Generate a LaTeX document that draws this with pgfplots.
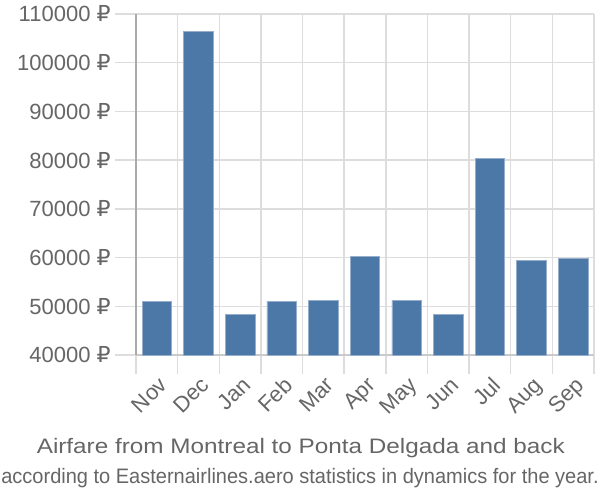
\documentclass[border=0pt]{standalone}
\usepackage{fontspec}
\setmainfont{Liberation Sans}
\newfontfamily\rub{DejaVu Sans}
\usepackage{pgfplots}
\pgfplotsset{compat=1.18}
\definecolor{barc}{HTML}{4C78A8}
\definecolor{txt}{HTML}{666666}
\definecolor{gridc}{HTML}{DDDDDD}
\definecolor{axisc}{HTML}{AAAAAA}
\begin{document}
\begin{tikzpicture}[x=1pt,y=1pt]
\useasboundingbox (0,0) rectangle (450,375);
\begin{axis}[
 at={(102pt,108.75pt)}, anchor=south west,
 scale only axis, width=343.5pt, height=255.75pt,
 xmin=-0.5, xmax=10.5, ymin=40000, ymax=110000,
 ytick={40000,50000,...,110000},
 xtick={0,...,10},
 xticklabels={Nov,Dec,Jan,Feb,Mar,Apr,May,Jun,Jul,Aug,Sep},
 minor xtick={-0.5,0.5,...,10.5},
 major x tick style={draw=none},
 xminorgrids, ymajorgrids,
 grid style={gridc, line width=1.1pt},
 minor grid style={gridc, line width=1.1pt},
 tick style={gridc, line width=1.1pt},
 tick align=outside,
 major tick length=15.5pt, minor tick length=14pt,
 axis x line*=bottom, axis y line*=left,
 x axis line style={draw=gridc!80!gray, line width=1.1pt, -},
 y axis line style={draw=axisc, line width=1.1pt, -},
 scaled y ticks=false,
 /pgf/number format/.cd, fixed, 1000 sep={}, assume math mode=true,
 /pgfplots/.cd,
 yticklabel={\pgfmathprintnumber{\tick}~{\rub ₽}},
 yticklabel style={txt, font=\fontsize{16.5}{17}\selectfont, xshift=0pt},
 xticklabel style={txt, font=\fontsize{16.5}{17}\selectfont, rotate=45, anchor=north east, xshift=4pt, yshift=3pt},
 axis on top=false,
]
\addplot[ybar, bar width=0.71, fill=barc, draw=barc!60!white, line width=0.5pt]
 coordinates {(0,51000) (1,106500) (2,48250) (3,51000) (4,51200) (5,60250) (6,51200) (7,48300) (8,80300) (9,59500) (10,59850)};
\end{axis}
\node[txt, font=\fontsize{15.7}{18}\selectfont, anchor=base, inner sep=0pt] at (225.6,35) {\resizebox{396pt}{\height}{Airfare from Montreal to Ponta Delgada and back}};
\node[txt, font=\fontsize{15.7}{18}\selectfont, anchor=base, inner sep=0pt] at (225,12.5) {\resizebox{448pt}{\height}{according to Easternairlines.aero statistics in dynamics for the year.}};
\end{tikzpicture}
\end{document}
